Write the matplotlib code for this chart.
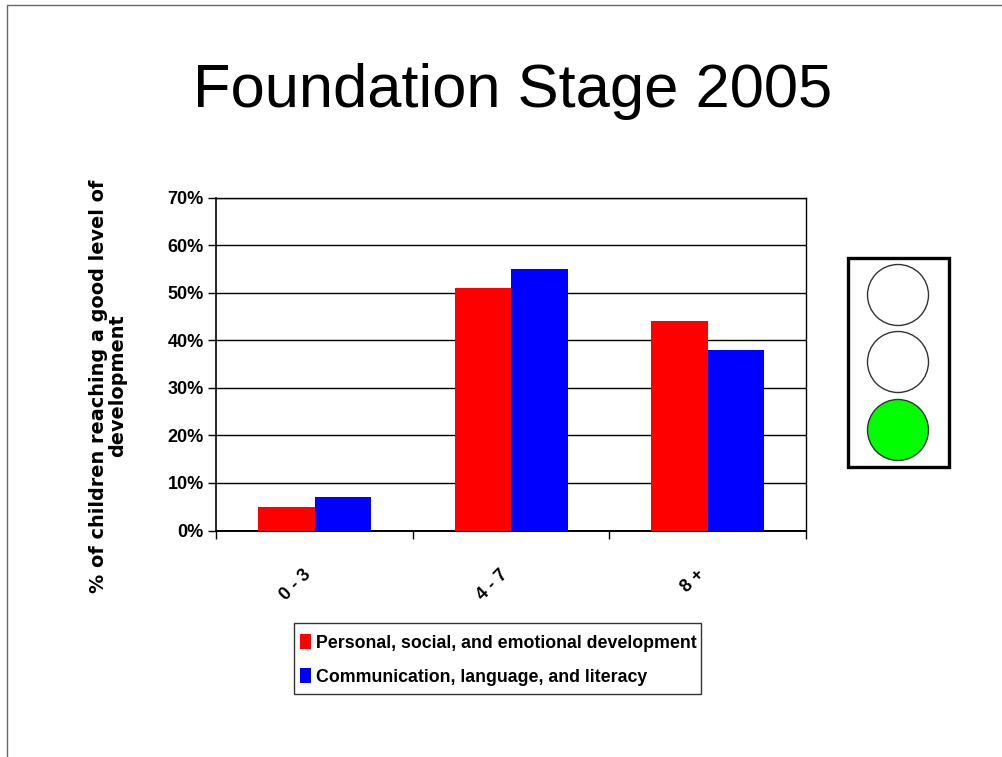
import matplotlib
matplotlib.use("Agg")
import numpy as np
import matplotlib.pyplot as plt
from matplotlib.lines import Line2D
from matplotlib.patches import Rectangle, Circle

W, H = 1003, 757

categories = ["0 - 3", "4 - 7", "8 +"]
personal = [5, 51, 44]
communication = [7, 55, 38]
series_names = ["Personal, social, and emotional development",
                "Communication, language, and literacy"]
yticks = [0, 10, 20, 30, 40, 50, 60, 70]
light_colors = ["white", "white", "#00ff00"]

plt.rcParams["font.family"] = ["Liberation Sans", "DejaVu Sans"]


def px_axes(fig, left, top, right, bottom):
    return fig.add_axes([left / W, 1 - bottom / H, (right - left) / W, (bottom - top) / H])


def draw_chart(fig):
    ax = px_axes(fig, 216.5, 197.5, 806, 530.5)
    x = np.arange(len(categories))
    w = 0.287
    ax.bar(x - w / 2, personal, w, color="#ff0000", label=series_names[0], zorder=3)
    ax.bar(x + w / 2, communication, w, color="#0000ff", label=series_names[1], zorder=3)
    ax.set_xlim(-0.5, 2.5)
    ax.set_ylim(0, 70)
    ax.set_yticks(yticks)
    ax.set_yticklabels(["{}%".format(t) for t in yticks], fontweight="bold", fontsize=13)
    ax.grid(axis="y", color="black", lw=1, zorder=1)
    ax.set_axisbelow(True)
    # ticks sit between the groups, labels under the middle of each group
    ax.set_xticks(np.arange(len(categories) + 1) - 0.5)
    ax.set_xticklabels([])
    ax.set_xticks(x, minor=True)
    ax.set_xticklabels(categories, minor=True, rotation=45, ha="right", va="top",
                       fontweight="bold", fontsize=13)
    ax.tick_params(axis="x", which="minor", length=0, pad=25.5)
    ax.tick_params(axis="x", which="major", length=6, width=1)
    ax.tick_params(axis="y", length=6, width=1, pad=3)
    for s in ax.spines.values():
        s.set_linewidth(1)
    ax.spines["left"].set_linewidth(1.2)
    ax.spines["bottom"].set_linewidth(1.4)
    fig.text(108 / W, 1 - 386 / H, "% of children reaching a good level of\ndevelopment",
             rotation=90, ha="center", va="center", ma="center",
             family=["DejaVu Sans"], fontweight="bold", fontsize=13.9, linespacing=1.05)
    fig.legend(loc="lower left", bbox_to_anchor=(300 / W, 1 - 686 / H), frameon=False,
               handlelength=0.62, handleheight=0.9, handletextpad=0.3, labelspacing=0.95,
               borderaxespad=0, borderpad=0,
               prop={"weight": "bold", "size": 12.8})


def draw_overlay(fig):
    # page border, legend box and traffic light, laid out in pixels
    ov = fig.add_axes([0, 0, 1, 1], zorder=5)
    ov.set_xlim(0, W)
    ov.set_ylim(H, 0)
    ov.axis("off")
    ov.patch.set_alpha(0)
    ov.add_line(Line2D([7.5, 7.5, W], [H, 4.5, 4.5], color="#666666", lw=1))
    ov.add_patch(Rectangle((294.5, 623), 407, 71, fc="none", ec="#333333", lw=1))
    ov.add_patch(Rectangle((848, 258), 101, 209, fc="white", ec="black", lw=2.4))
    for cy, col in zip([295, 362, 430], light_colors):
        ov.add_patch(Circle((898, cy), 30.5, fc=col, ec="#333333", lw=1))


def main():
    fig = plt.figure(figsize=(W / 100, H / 100), dpi=100, facecolor="white")
    fig.text(512.5 / W, 1 - 91 / H, "Foundation Stage 2005", ha="center", va="center",
             fontsize=44.3, color="black")
    draw_chart(fig)
    draw_overlay(fig)
    fig.savefig("out.png", dpi=100)


if __name__ == '__main__':
    main()
